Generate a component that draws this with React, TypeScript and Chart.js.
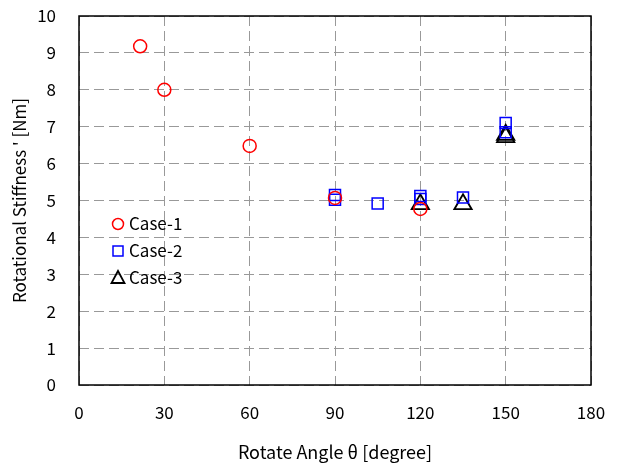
import React, { useEffect, useRef } from "react";
import { Chart, registerables } from "chart.js";

Chart.register(...registerables);

const case1X = [21.5, 30, 60, 90, 120];
const case1Y = [9.18, 8.0, 6.48, 5.07, 4.77];
const case2X = [90, 90, 105, 120, 120, 135, 150, 150];
const case2Y = [5.15, 5.02, 4.92, 5.12, 5.04, 5.08, 7.1, 6.85];
const case3X = [120, 135, 150, 150];
const case3Y = [4.9, 4.9, 6.72, 6.78];
const seriesNames = ["Case-1", "Case-2", "Case-3"];
const xTicks = [0, 30, 60, 90, 120, 150, 180];
const yTicks = [0, 1, 2, 3, 4, 5, 6, 7, 8, 9, 10];

const FONT = "'Noto Sans CJK JP', 'DejaVu Sans', sans-serif";

function pts(xs: number[], ys: number[]) {
  return xs.map((x, i) => ({ x, y: ys[i] }));
}

const frame = {
  id: "frame",
  beforeDatasetsDraw(chart: any) {
    const { ctx, chartArea } = chart;
    ctx.save();
    ctx.strokeStyle = "#000";
    ctx.lineWidth = 1.5;
    ctx.setLineDash([]);
    ctx.strokeRect(chartArea.left, chartArea.top, chartArea.right - chartArea.left, chartArea.bottom - chartArea.top);
    ctx.restore();
  },
};

const legendPlugin = {
  id: "insideLegend",
  afterDraw(chart: any) {
    const { ctx } = chart;
    const x0 = 118;
    const y0 = 224;
    const dy = 27;
    ctx.save();
    chart.data.datasets.forEach((ds: any, i: number) => {
      const y = y0 + i * dy;
      ctx.strokeStyle = ds.borderColor;
      ctx.lineWidth = ds.borderWidth;
      ctx.beginPath();
      if (i === 0) {
        ctx.arc(x0, y, 5.5, 0, Math.PI * 2);
      } else if (i === 1) {
        ctx.rect(x0 - 5, y - 5, 10, 10);
      } else {
        ctx.moveTo(x0, y - 7);
        ctx.lineTo(x0 + 6.5, y + 5);
        ctx.lineTo(x0 - 6.5, y + 5);
        ctx.closePath();
      }
      ctx.stroke();
      ctx.fillStyle = "#000";
      ctx.font = `17px ${FONT}`;
      ctx.textBaseline = "middle";
      ctx.textAlign = "left";
      ctx.fillText(seriesNames[i], x0 + 11, y);
    });
    ctx.restore();
  },
};

export default function App() {
  const ref = useRef<HTMLCanvasElement>(null);
  useEffect(() => {
    const chart = new Chart(ref.current as HTMLCanvasElement, {
      type: "scatter",
      data: {
        datasets: [
          {
            label: seriesNames[0],
            data: pts(case1X, case1Y),
            pointStyle: "circle",
            pointRadius: 6.5,
            borderColor: "#ff0000",
            backgroundColor: "rgba(0,0,0,0)",
            borderWidth: 1.5,
          },
          {
            label: seriesNames[1],
            data: pts(case2X, case2Y),
            pointStyle: "rect",
            pointRadius: 7.8,
            borderColor: "#0000ff",
            backgroundColor: "rgba(0,0,0,0)",
            borderWidth: 1.5,
          },
          {
            label: seriesNames[2],
            data: pts(case3X, case3Y),
            pointStyle: "triangle",
            pointRadius: 10,
            borderColor: "#000000",
            backgroundColor: "rgba(0,0,0,0)",
            borderWidth: 1.8,
          },
        ],
      },
      options: {
        responsive: false,
        animation: false,
        layout: { padding: { top: 16, right: 33, left: 0, bottom: 0 } },
        plugins: { legend: { display: false }, tooltip: { enabled: false } },
        scales: {
          x: {
            type: "linear",
            min: 0,
            max: 180,
            afterFit(scale: any) {
              scale.height = 80;
              scale.paddingLeft = 0;
              scale.paddingRight = 0;
            },
            afterBuildTicks(scale: any) {
              scale.ticks = xTicks.map((v) => ({ value: v }));
            },
            ticks: { color: "#000", padding: 17, font: { family: FONT, size: 17 } },
            grid: { color: "#999999", lineWidth: 1, drawTicks: false },
            border: { display: false, dash: [10, 5] },
            title: {
              display: true,
              text: "Rotate Angle θ [degree]",
              color: "#000",
              font: { family: FONT, size: 18 },
              padding: { top: 2, bottom: 2 },
            },
          },
          y: {
            type: "linear",
            min: 0,
            max: 10,
            afterFit(scale: any) {
              scale.width = 79;
              scale.paddingTop = 0;
              scale.paddingBottom = 0;
            },
            afterBuildTicks(scale: any) {
              scale.ticks = yTicks.map((v) => ({ value: v }));
            },
            ticks: { color: "#000", padding: 23, font: { family: FONT, size: 17 } },
            grid: { color: "#999999", lineWidth: 1, drawTicks: false },
            border: { display: false, dash: [10, 5] },
            title: {
              display: true,
              text: "Rotational Stiffness ' [Nm]",
              color: "#000",
              font: { family: FONT, size: 17 },
              padding: { top: 9, bottom: 4 },
            },
          },
        },
      },
      plugins: [frame, legendPlugin],
    });
    return () => chart.destroy();
  }, []);
  return (
    <div style={{ position: "absolute", left: 0, top: 0, width: 624, height: 465, background: "#fff" }}>
      <canvas ref={ref} width={624} height={465} style={{ display: "block" }} />
    </div>
  );
}
